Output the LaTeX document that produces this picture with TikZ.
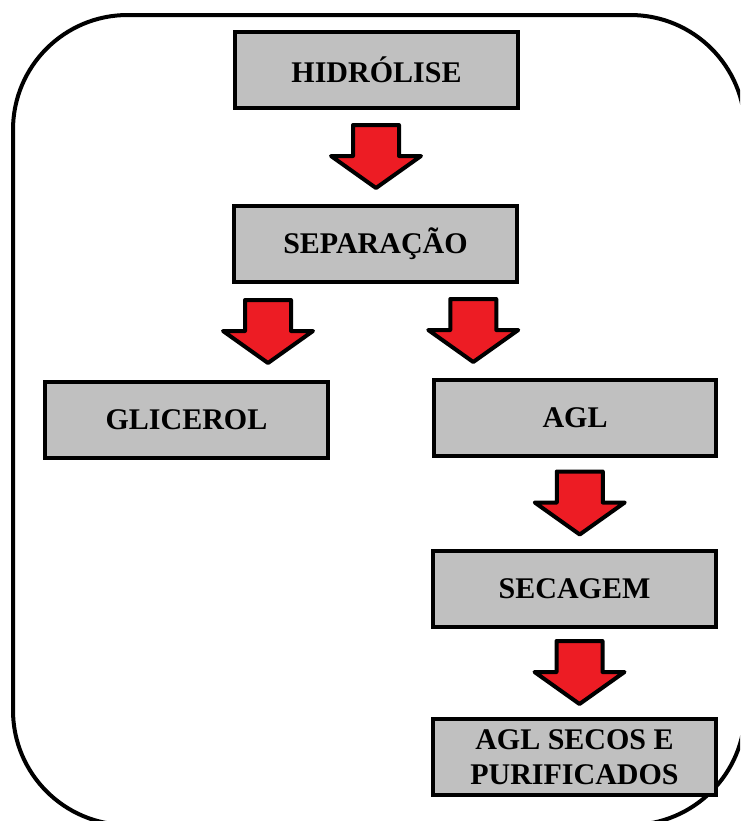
\documentclass[tikz,border=0pt]{standalone}
\usepackage{fontspec}
\setmainfont{Liberation Serif}
\usetikzlibrary{calc}
\definecolor{boxgray}{RGB}{192,192,192}
\definecolor{arrowred}{RGB}{237,28,36}
\tikzset{
  procbox/.style={draw, fill=boxgray, line width=3pt, minimum width=212pt,
    minimum height=57pt, align=center, inner sep=0pt,
    font=\bfseries\fontsize{22.5}{26}\selectfont},
  pics/downarrow/.style={code={
    \draw[fill=arrowred, line width=3pt, line join=round]
      (-23,32) -- (23,32) -- (23,1) -- (45,1) -- (0,-31) -- (-45,1) -- (-23,1) -- cycle;
  }}
}

\begin{document}
\begin{tikzpicture}[x=0.75pt, y=0.75pt]
            \useasboundingbox (0,0) rectangle (740,-821);
            \begin{scope}
              \clip (0,0) rectangle (740,-821);
              \draw[line width=3pt, rounded corners=86pt] (13,-15) rectangle (745,-825);
            \end{scope}
            \node[procbox](hid)at(376.5,-70){HIDRÓLISE};
            \node[procbox](sep)at(375.5,-244){SEPARAÇÃO};
            \node[procbox](gli)at(186.5,-420){GLICEROL};
            \node[procbox](agl)at(575,-418){AGL};
            \node[procbox](sec)at(574.5,-589){SECAGEM};
            \node[procbox](pur)at(574.5,-757){AGL SECOS E\\PURIFICADOS};
            \pic at ($(hid.south)!.5!(sep.north)$) {downarrow};
            \pic at ($(sep.south)!.5!(gli.north)+(-13,0)$) {downarrow};
            \pic at ($(sep.south)!.5!(agl.north)+(-2,0)$) {downarrow};
            \pic at ($(agl.south)!.5!(sec.north)+(5,0)$) {downarrow};
            \pic at ($(sec.south)!.5!(pur.north)+(5,0)$) {downarrow};
        \end{tikzpicture}
\end{document}
